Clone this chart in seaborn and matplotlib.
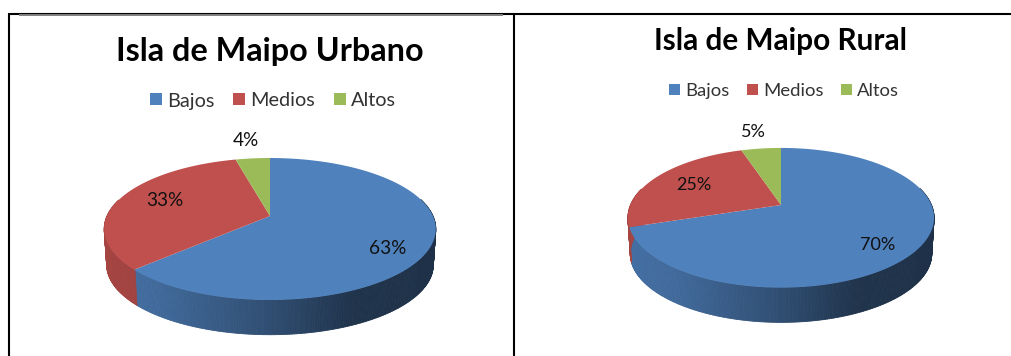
import numpy as np
import matplotlib
matplotlib.use("Agg")
import matplotlib.pyplot as plt
import matplotlib.transforms as mtransforms
from matplotlib.collections import PolyCollection
from matplotlib.lines import Line2D
from matplotlib.patches import Patch
from matplotlib.path import Path
import seaborn as sns

categories = ["Bajos", "Medios", "Altos"]
urbano_values = [63, 33, 4]
rural_values = [70, 25, 5]
urbano_title = "Isla de Maipo Urbano"
rural_title = "Isla de Maipo Rural"

colors = sns.color_palette(["#4F81BD", "#C0504D", "#9BBB59"])

W, H = 1012, 356
sns.set_theme(style="white")
plt.rcParams["font.family"] = ["Lato", "DejaVu Sans"]
fig = plt.figure(figsize=(W / 100, H / 100), dpi=100, facecolor="white")


class Tilt(mtransforms.Transform):
    """Perspective view of the unit pie, in pixels around its apex."""
    input_dims = output_dims = 2
    is_separable = False
    has_inverse = False

    def __init__(self, a, b, k=0.183, scale=1.0, drop=0.0):
        super().__init__()
        self.a, self.b, self.k, self.scale, self.drop = a, b, k, scale, drop

    def transform_non_affine(self, xy):
        xy = np.asarray(xy, dtype=float)
        x, y = xy[:, 0], xy[:, 1]
        w = 1 + self.k * y
        return np.column_stack([self.scale * self.a * x / w,
                                self.scale * self.b * y / w - self.drop])

    def transform_path_non_affine(self, path):
        # Flatten the arc first: control points do not survive a perspective map
        fine = mtransforms.Affine2D().scale(2000)
        poly = path.to_polygons(transform=fine, closed_only=True)[0] / 2000
        return Path(self.transform_non_affine(poly), closed=True)


def draw_panel(values, title, cx, apex_y, a, b, depth, title_y, title_size,
               legend_y, legend_dx, legend_size, label_size, label_px):
    ax = fig.add_axes([(cx - 225) / W, 0, 450 / W, 1])
    wedges, _ = ax.pie(values, colors=colors, startangle=90, counterclock=False,
                       wedgeprops={"linewidth": 0, "zorder": 3})
    ax.set_aspect("auto")
    ax.set_xlim(-225, 225)
    ax.set_ylim(-(H - apex_y), apex_y)
    ax.axis("off")

    top = Tilt(a, b)
    low = Tilt(a, b, scale=0.985, drop=depth)
    for wedge in wedges:
        wedge.set_transform(top + ax.transData)
        wedge.set_clip_on(False)

    # Side wall, shaded from left to right
    polys, shades = [], []
    for wedge in wedges:
        th = np.radians(np.arange(wedge.theta1, wedge.theta2 + 0.5, 0.75))
        rim = np.column_stack([np.cos(th), np.sin(th)])
        upper, lower = top.transform(rim), low.transform(rim)
        for i in range(len(th) - 1):
            if rim[i, 1] > 0.25:
                continue
            t = (upper[i, 0] + a) / (2 * a)
            f = np.interp(t, [0, 0.15, 0.5, 0.75, 1], [0.86, 0.82, 0.60, 0.40, 0.38])
            polys.append([upper[i], upper[i + 1], lower[i + 1], lower[i]])
            shades.append(tuple(np.array(wedge.get_facecolor()[:3]) * f))
    ax.add_collection(PolyCollection(polys, facecolors=shades, edgecolors=shades,
                                     linewidths=0.6, zorder=2))

    for val, (px, py) in zip(values, label_px):
        ax.text(px - cx, apex_y - py, f"{val}%", ha="center", va="center",
                fontsize=label_size, color="#111111", zorder=5)

    ax.set_title(title, fontsize=title_size, fontweight="bold", color="black",
                 x=0.5 - 0.5 / 450, y=1 - title_y / H, va="center", pad=0)
    handles = [Patch(facecolor=c, edgecolor="none", label=n)
               for c, n in zip(colors, categories)]
    ax.legend(handles=handles, ncols=3, frameon=False, loc="center",
              bbox_to_anchor=(0.5 + legend_dx / 450, 1 - legend_y / H),
              fontsize=legend_size, handlelength=0.6, handleheight=0.55,
              handletextpad=0.27, columnspacing=0.95, labelcolor="#333333")


draw_panel(urbano_values, urbano_title, 270, 216, 163, 68.6, 36, 51, 23.3,
           101, 3, 14.3, 13.7, [(388, 248), (165, 200), (246, 141)])
draw_panel(rural_values, rural_title, 781, 205, 150.5, 67.5, 36, 41, 21.4,
           91, 3, 13.3, 13, [(878, 245), (694, 185), (753, 132)])

# Surrounding table rules
def rule(x0, y0, x1, y1, color, lw):
    fig.add_artist(Line2D([x0 / W, x1 / W], [1 - y0 / H, 1 - y1 / H], color=color,
                          lw=lw, solid_capstyle="butt", zorder=10))

rule(8.5, 13.5, W, 13.5, "black", 1.5)
rule(19, 15.3, 503, 15.3, "#808080", 1.4)
rule(9.5, 13, 9.5, H, "black", 1.5)
rule(514, 13, 514, H, "black", 1.5)

fig.savefig("out.png", dpi=100, facecolor="white")
